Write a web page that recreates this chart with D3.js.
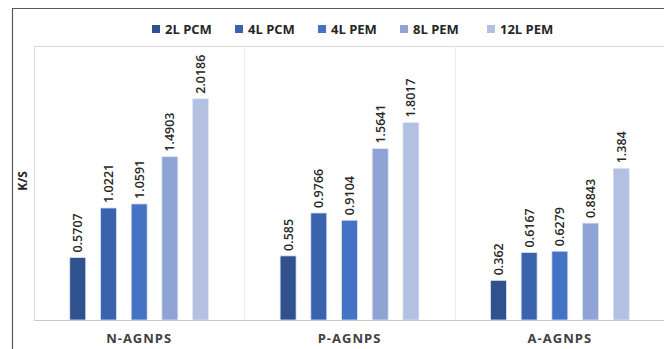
<!DOCTYPE html>
<html>
<head>
<meta charset="utf-8">
<script src="https://cdn.jsdelivr.net/npm/d3@7"></script>
<style>
  html, body { margin: 0; padding: 0; background: #fff; }
  svg { display: block; font-family: "Open Sans", "Liberation Sans", sans-serif; }
</style>
</head>
<body>
<svg id="chart" width="664" height="349"></svg>
<script>
const categories = ["N-AGNPS", "P-AGNPS", "A-AGNPS"];
const seriesNames = ["2L PCM", "4L PCM", "4L PEM", "8L PEM", "12L PEM"];
const seriesColors = ["#2F528F", "#3A63AD", "#4472C4", "#8FA3D4", "#B4C0E2"];
const values2LPCM = [0.5707, 0.585, 0.362];
const values4LPCM = [1.0221, 0.9766, 0.6167];
const values4LPEM = [1.0591, 0.9104, 0.6279];
const values8LPEM = [1.4903, 1.5641, 0.8843];
const values12LPEM = [2.0186, 1.8017, 1.384];
const labels2LPCM = ["0.5707", "0.585", "0.362"];
const labels4LPCM = ["1.0221", "0.9766", "0.6167"];
const labels4LPEM = ["1.0591", "0.9104", "0.6279"];
const labels8LPEM = ["1.4903", "1.5641", "0.8843"];
const labels12LPEM = ["2.0186", "1.8017", "1.384"];
const yAxisTitle = "K/S";

const seriesValues = [values2LPCM, values4LPCM, values4LPEM, values8LPEM, values12LPEM];
const seriesLabels = [labels2LPCM, labels4LPCM, labels4LPEM, labels8LPEM, labels12LPEM];

const svg = d3.select("#chart");
const plot = { left: 34, right: 665, top: 46, bottom: 320 };

// outer frame (top + left visible)
svg.append("line").attr("x1", 12).attr("x2", 664).attr("y1", 8.5).attr("y2", 8.5)
  .attr("stroke", "#5a5a5a").attr("stroke-width", 1.2);
svg.append("line").attr("x1", 12.5).attr("x2", 12.5).attr("y1", 8).attr("y2", 349)
  .attr("stroke", "#5a5a5a").attr("stroke-width", 1.2);

const x0 = d3.scaleBand().domain(categories).range([plot.left, plot.right]).padding(0);
const x1 = d3.scaleBand().domain(seriesNames).range([0, x0.bandwidth()])
  .paddingInner(0.479).paddingOuter(1.165);
const y = d3.scaleLinear().domain([0, 2.5]).range([plot.bottom, plot.top]);

// plot area frame: top line, left line, vertical category separators
svg.append("line").attr("x1", plot.left).attr("x2", 664).attr("y1", plot.top + 0.5).attr("y2", plot.top + 0.5)
  .attr("stroke", "#d9d9d9");
const seps = categories.map(c => x0(c)).concat([plot.right]);
svg.selectAll(".sep").data(seps).enter().append("line")
  .attr("x1", d => Math.round(d) + 0.5).attr("x2", d => Math.round(d) + 0.5)
  .attr("y1", plot.top).attr("y2", plot.bottom)
  .attr("stroke", (d, i) => i === 0 ? "#d9d9d9" : "#eeeeee");

// bars
categories.forEach((cat, ci) => {
  seriesNames.forEach((s, si) => {
    const v = seriesValues[si][ci];
    const bx = x0(cat) + x1(s);
    svg.append("rect")
      .attr("x", bx).attr("y", y(v))
      .attr("width", x1.bandwidth()).attr("height", plot.bottom - y(v))
      .attr("fill", seriesColors[si])
      .attr("stroke", "#dfe6f3").attr("stroke-width", 0.8);
    const cx = bx + x1.bandwidth() / 2;
    svg.append("text")
      .attr("transform", `translate(${cx},${y(v) - 5}) rotate(-90)`)
      .attr("text-anchor", "start").attr("dominant-baseline", "central")
      .attr("font-size", 12.5).attr("font-weight", 600).attr("fill", "#262626")
      .text(seriesLabels[si][ci]);
  });
});

// baseline
svg.append("line").attr("x1", plot.left).attr("x2", 664).attr("y1", plot.bottom + 0.5).attr("y2", plot.bottom + 0.5)
  .attr("stroke", "#c8c8c8").attr("stroke-width", 1.2);

// category labels
svg.selectAll(".cat").data(categories).enter().append("text")
  .attr("x", d => x0(d) + x0.bandwidth() / 2).attr("y", 343)
  .attr("text-anchor", "middle").attr("font-size", 13).attr("font-weight", "bold")
  .attr("letter-spacing", 1).attr("fill", "#404040")
  .text(d => d);

// y axis title
svg.append("text")
  .attr("transform", "translate(22,181) rotate(-90)")
  .attr("text-anchor", "middle").attr("dominant-baseline", "central")
  .attr("font-size", 12).attr("font-weight", "bold").attr("fill", "#262626")
  .text(yAxisTitle);

// legend
const legendX = [152, 235, 318, 400, 487];
const lg = svg.selectAll(".lg").data(seriesNames).enter().append("g")
  .attr("transform", (d, i) => `translate(${legendX[i]},29)`);
lg.append("rect").attr("x", 0).attr("y", -4).attr("width", 8).attr("height", 8)
  .attr("fill", (d, i) => seriesColors[i]);
lg.append("text").attr("x", 13).attr("y", 0).attr("dominant-baseline", "central")
  .attr("font-size", 13).attr("font-weight", "bold").attr("fill", "#262626")
  .text(d => d);
</script>
</body>
</html>
